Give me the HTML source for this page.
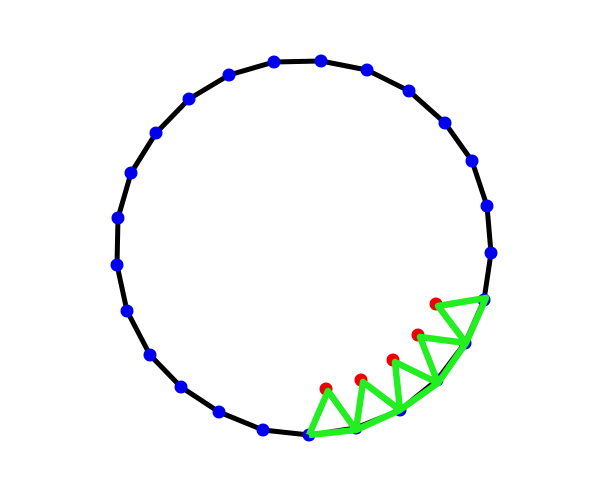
<!DOCTYPE html>
<html><head><meta charset="utf-8"><style>html,body{margin:0;padding:0;background:#fff}svg{display:block}</style></head>
<body>
<svg id="chart" width="606" height="480" viewBox="0 0 606 480"></svg>
<script>
const blueX=[321,367,409,445,472,487,491,484,465,437,400,356,309,263,219,181,150,127,117,118,131,156,189,229,274];
const blueY=[61,70,91,123,161,206,253,300,343,380,410,428,435,430,412,387,355,311,265,218,173,133,99,75,62];
const redX=[326,361,393,418,436];
const redY=[389,380,360,335,304];
const chainX=[309,356,400,438,466,486];
const chainY=[435,430,410,383,343,298];
const NS='http://www.w3.org/2000/svg';
const svg=document.getElementById('chart');
function mk(t,a){const e=document.createElementNS(NS,t);for(const k in a)e.setAttribute(k,a[k]);svg.appendChild(e);return e;}
let pts=blueX.map((x,i)=>x+','+blueY[i]);pts.push(pts[0]);
const poly=mk('polyline',{points:pts.join(' '),fill:'none',stroke:'#000','stroke-width':5,'stroke-linejoin':'round'});


blueX.forEach((x,i)=>{const c=mk('circle',{cx:x,cy:blueY[i],r:6.5,fill:'#0000ee'});

});
redX.forEach((x,i)=>{const c=mk('circle',{cx:x,cy:redY[i],r:6.5,fill:'#ee0000'});

});
let g=[];
for(let i=0;i<chainX.length;i++){g.push(chainX[i]+','+chainY[i]);if(i<redX.length)g.push((redX[i]+2)+','+(redY[i]+2));}
for(let i=chainX.length-1;i>=0;i--)g.push(chainX[i]+','+chainY[i]);
const gl=mk('polyline',{points:g.join(' '),fill:'none',stroke:'#22ee22','stroke-width':6.5,'stroke-linejoin':'round'});


</script>
</body></html>
